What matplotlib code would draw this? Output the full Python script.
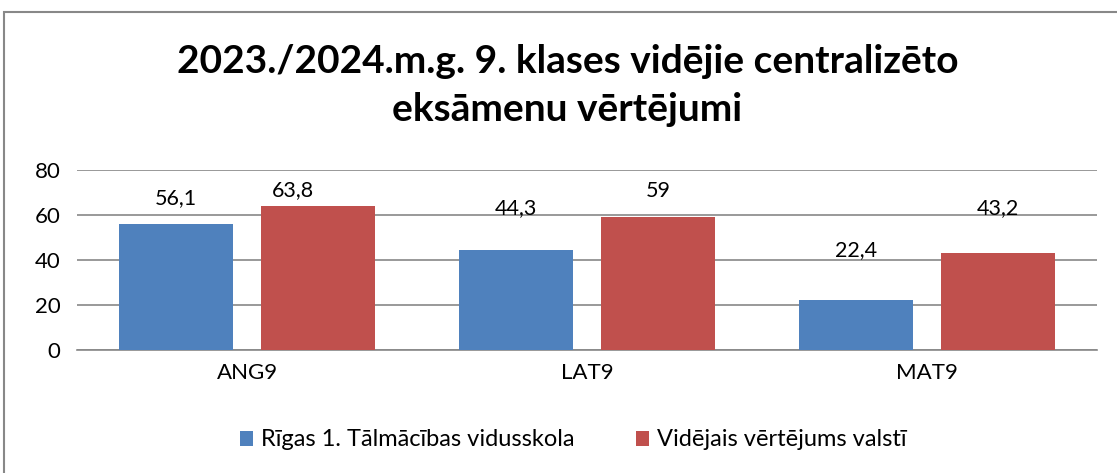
import numpy as np
import matplotlib.pyplot as plt
from matplotlib.patches import Rectangle

categories = ['ANG9', 'LAT9', 'MAT9']
school = [56.1, 44.3, 22.4]
country = [63.8, 59.0, 43.2]
series_names = ['Rīgas 1. Tālmācības vidusskola', 'Vidējais vērtējums valstī']

# label placement (Excel put them unevenly)
school_lbl_y = [67.3, 62.9, 44.4]
country_lbl_y = [71.1, 70.7, 62.9]
country_lbl_dx = [-0.074, 0.0, 0.0]

plt.rcParams['font.family'] = ['Lato', 'DejaVu Sans']

fig = plt.figure(figsize=(11.17, 4.73), dpi=100)
ax = fig.add_axes([0.069, 0.260, 0.913, 0.3806])

x = np.arange(len(categories))
w = 0.335
off = 0.209
b1 = ax.bar(x - off, school, w, color='#4f81bd', label=series_names[0], zorder=3)
b2 = ax.bar(x + off, country, w, color='#c0504d', label=series_names[1], zorder=3)

def fmt(v):
    s = ('%.1f' % v).replace('.', ',')
    return s[:-2] if s.endswith(',0') else s

for i in range(len(categories)):
    ax.text(x[i] - off, school_lbl_y[i], fmt(school[i]), ha='center', va='center', fontsize=15.5)
    ax.text(x[i] + off + country_lbl_dx[i], country_lbl_y[i], fmt(country[i]), ha='center', va='center', fontsize=15.5)

ax.set_xlim(-0.5, 2.5)
ax.set_ylim(0, 80)
ax.set_yticks([0, 20, 40, 60, 80])
ax.set_xticks(x)
ax.set_xticklabels(categories)
ax.tick_params(axis='both', length=0, labelsize=16)
ax.tick_params(axis='x', pad=9)
ax.tick_params(axis='y', pad=12)
ax.grid(axis='y', color='#888888', linewidth=1.2, zorder=0)
for s in ['top', 'right', 'left']:
    ax.spines[s].set_visible(False)
ax.spines['bottom'].set_color('#888888')
ax.spines['bottom'].set_linewidth(1.2)

fig.text(0.508, 0.82, '2023./2024.m.g. 9. klases vidējie centralizēto\neksāmenu vērtējumi',
         ha='center', va='center', fontsize=28, fontweight='bold', linespacing=1.45)

fig.legend(loc='center', bbox_to_anchor=(0.513, 0.07), ncol=2, frameon=False, fontsize=17,
           handlelength=0.55, handleheight=0.6, handletextpad=0.35, columnspacing=2.6)

fig.patches.append(Rectangle((4 / 1117, -0.1), 1.2, 1 - 12 / 473 + 0.1, transform=fig.transFigure,
                             fill=False, edgecolor='#888888', linewidth=1.5))

fig.savefig('out.png', dpi=100)
